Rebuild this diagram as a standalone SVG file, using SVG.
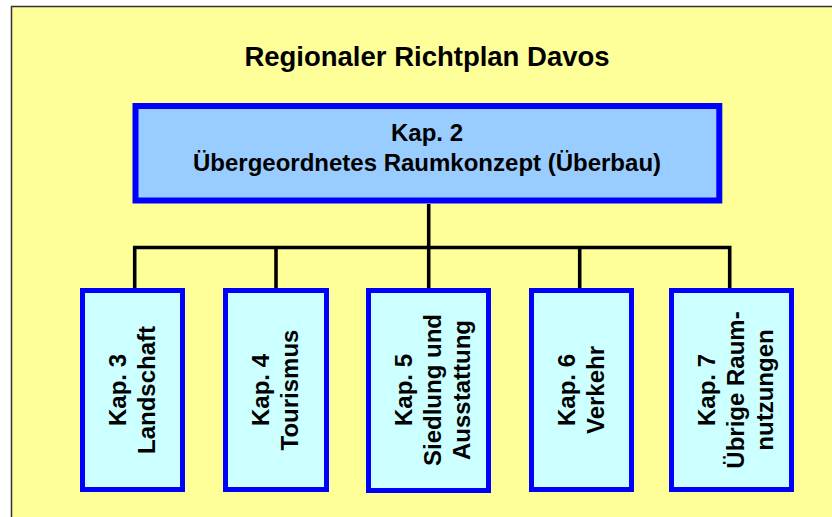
<svg xmlns="http://www.w3.org/2000/svg" width="832" height="517" viewBox="0 0 832 517">
<style>
text{font-family:"Liberation Sans",Arial,sans-serif;font-weight:bold;fill:#000;text-anchor:middle}
.t{font-size:24px}
.sub{fill:#CCFFFF;stroke:#0000FF;stroke-width:5}
.con{fill:none;stroke:#000;stroke-width:3.6}
</style>
<rect x="0" y="0" width="832" height="517" fill="#FFFFFF"/>
<rect id="frame" x="11.5" y="6.5" width="840" height="530" fill="#FFFF99" stroke="#333333" stroke-width="1.5"/>
<text id="title" x="427" y="65.5" style="font-size:27.5px">Regionaler Richtplan Davos</text>
<g id="connectors">
<path class="con" d="M134.7 289 V247.5 H729.7 V289"/>
<path class="con" d="M428.7 204 V289"/>
<path class="con" d="M276 247.5 V289"/>
<path class="con" d="M579.7 247.5 V289"/>
</g>
<g id="kap2">
<rect x="135.5" y="106" width="583.8" height="94.5" fill="#99CCFF" stroke="#0000FF" stroke-width="6"/>
<text class="t" x="427" y="140.5">Kap. 2</text>
<text class="t" x="427" y="170.5">Übergeordnetes Raumkonzept (Überbau)</text>
</g>
<g id="kap3">
<rect class="sub" x="82.5" y="290.5" width="100" height="199"/>
<g transform="translate(132.5 390) rotate(-90)">
<text class="t" x="0" y="-7">Kap. 3</text>
<text class="t" x="0" y="22">Landschaft</text>
</g>
</g>
<g id="kap4">
<rect class="sub" x="225.5" y="290.5" width="101" height="199"/>
<g transform="translate(276 390) rotate(-90)">
<text class="t" x="0" y="-7">Kap. 4</text>
<text class="t" x="0" y="22">Tourismus</text>
</g>
</g>
<g id="kap5">
<rect class="sub" x="368.5" y="290.5" width="120" height="200"/>
<g transform="translate(428.5 390) rotate(-90)">
<text class="t" x="0" y="-17">Kap. 5</text>
<text class="t" x="0" y="12">Siedlung und</text>
<text class="t" x="0" y="41">Ausstattung</text>
</g>
</g>
<g id="kap6">
<rect class="sub" x="531.5" y="290.5" width="100" height="199"/>
<g transform="translate(581.5 390) rotate(-90)">
<text class="t" x="0" y="-7">Kap. 6</text>
<text class="t" x="0" y="22">Verkehr</text>
</g>
</g>
<g id="kap7">
<rect class="sub" x="671.5" y="290.5" width="120" height="199"/>
<g transform="translate(731.5 390) rotate(-90)">
<text class="t" x="0" y="-17">Kap. 7</text>
<text class="t" x="0" y="12">Übrige Raum-</text>
<text class="t" x="0" y="41">nutzungen</text>
</g>
</g>
</svg>
